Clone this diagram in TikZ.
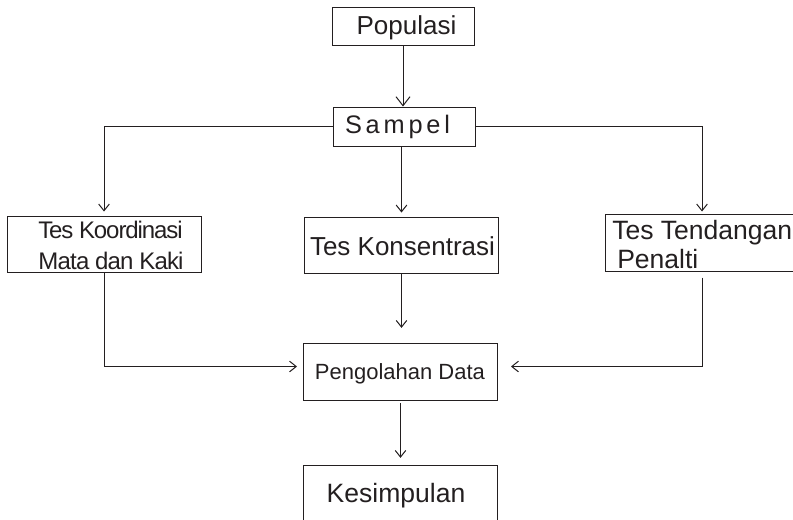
\documentclass[tikz,border=0pt]{standalone}
\usepackage{fontspec}
\setmainfont{Liberation Sans}
\usetikzlibrary{arrows.meta,calc}
\definecolor{ink}{HTML}{231F20}
\begin{document}
\begin{tikzpicture}[x=0.75pt,y=-0.75pt,
  box/.style={draw=ink, line width=0.75pt, inner sep=0pt, minimum width=145.5pt, minimum height=42pt},
  lbl/.style={text=ink, inner sep=0pt, anchor=base, font=\fontsize{19.5}{21}\selectfont},
  conn/.style={draw=ink, line width=0.75pt, -{Straight Barb[length=5pt,width=8pt]}},
  ]
\useasboundingbox (0,0) rectangle (793,519);
% boxes
\node[box, minimum width=106.5pt, minimum height=28.5pt] (pop) at (403,26) {};
\node[box, minimum width=106.5pt, minimum height=29.25pt] (samp) at (404,126.5) {};
\node[box] (koord) at (104,244) {};
\node[box] (kons) at (401.5,245) {};
\node[box, minimum height=42.75pt] (tend) at (702,242.5) {};
\node[box, minimum height=42.75pt] (olah) at (400.5,371.5) {};
\node[box, minimum height=56.25pt] (kes) at (400,502.5) {};
% texts
\node[lbl] (popt) at (406.5,34.3) {Populasi};
\node[lbl, font=\fontsize{19}{21}\selectfont\addfontfeature{LetterSpace=15}] (sampt) at (397.5,133.3) {Sampel};
\node[lbl, font=\fontsize{18}{19}\selectfont\addfontfeature{LetterSpace=-4.5}] (k1) at (110.5,238.3) {Tes Koordinasi};
\node[lbl, font=\fontsize{18}{19}\selectfont\addfontfeature{LetterSpace=-3.5}] (k2) at (111,269) {Mata dan Kaki};
\node[lbl] (konst) at (402.5,255) {Tes Konsentrasi};
\node[lbl, font=\fontsize{19.9}{21}\selectfont, anchor=base west] (t1) at (612,239) {Tes Tendangan};
\node[lbl, font=\fontsize{19.9}{21}\selectfont, anchor=base west] (t2) at (617,268) {Penalti};
\node[lbl, font=\fontsize{16.5}{18}\selectfont] (olaht) at (400,379) {Pengolahan Data};
\node[lbl, font=\fontsize{19.9}{21}\selectfont] (kest) at (396,502) {Kesimpulan};
% connectors
\coordinate (olahL) at ($(olah.west)+(0,-5)$);
\coordinate (olahR) at ($(olah.east)+(0,-5)$);
\draw[conn, -{Straight Barb[length=6.75pt,width=10.5pt]}] (pop.south) -- (pop.south |- samp.north);
\draw[conn, shorten >=3pt] (samp.west) -| (koord.north);
\draw[conn, shorten >=1.5pt] (samp.east) -| (tend.north);
\draw[conn, shorten >=3pt] (kons.north |- samp.south) -- (kons.north);
\draw[conn, shorten >=4.5pt] (koord.south) |- (olahL);
\draw[conn, shorten <=4.5pt, shorten >=9.75pt] (tend.south) |- (olahR);
\draw[conn, shorten >=11pt] (kons.south) -- (kons.south |- olah.north);
\draw[conn, shorten <=2pt, shorten >=5pt] (olah.south) -- (olah.south |- kes.north);
\end{tikzpicture}
\end{document}
